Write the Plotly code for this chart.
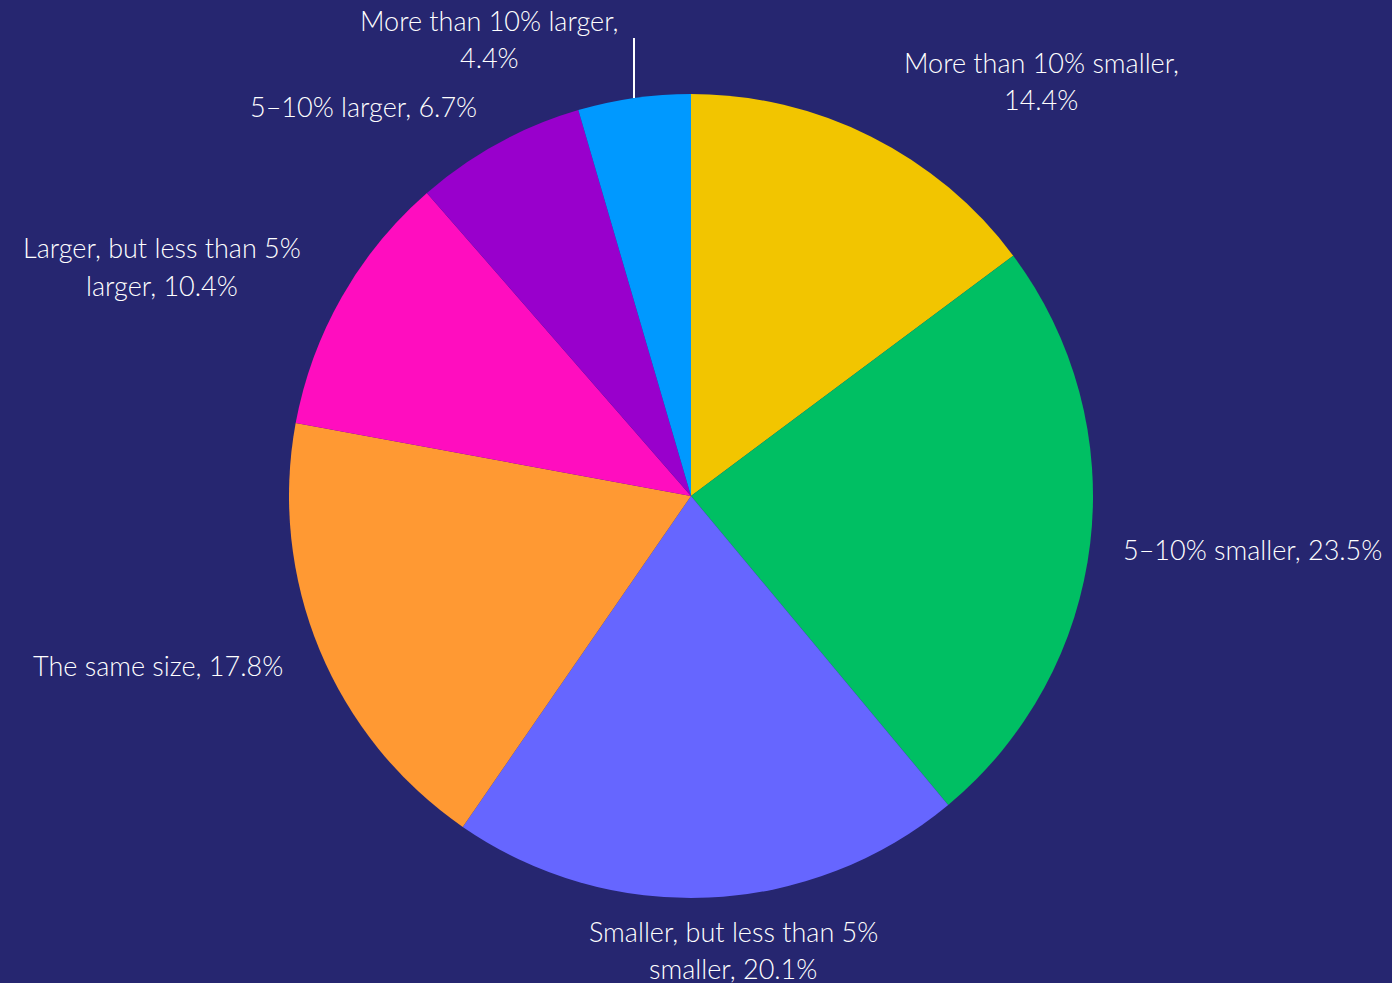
import plotly.graph_objects as go

# Data
categories = [
    "More than 10% smaller",
    "5–10% smaller",
    "Smaller, but less than 5% smaller",
    "The same size",
    "Larger, but less than 5% larger",
    "5–10% larger",
    "More than 10% larger",
]
values = [14.4, 23.5, 20.1, 17.8, 10.4, 6.7, 4.4]
label_lines = [
    ["More than 10% smaller,", "14.4%"],
    ["5–10% smaller, 23.5%"],
    ["Smaller, but less than 5%", "smaller, 20.1%"],
    ["The same size, 17.8%"],
    ["Larger, but less than 5%", "larger, 10.4%"],
    ["5–10% larger, 6.7%"],
    ["More than 10% larger,", "4.4%"],
]
colors = ["#F2C500", "#00BF63", "#6666FF", "#FF9933", "#FF0DBF", "#9900CC", "#0099FF"]

W, H = 1392, 983
BG = "#262670"
FONT = "Lato, DejaVu Sans, sans-serif"
FS = 27
LINE_GAP = 37

# label centre (first line) positions in pixels (layout)
label_pos = [
    (1041, 63),
    (1252, 549),
    (733, 931),
    (158, 665),
    (162, 248),
    (363, 107),
    (490, 20),
]

fig = go.Figure(go.Pie(
    labels=categories,
    values=values,
    sort=False,
    direction="clockwise",
    rotation=0,
    marker=dict(colors=colors, line=dict(width=0)),
    textinfo="none",
    hoverinfo="label+value",
    domain=dict(x=[0, 1382 / W], y=[85 / H, 889 / H]),
    showlegend=False,
))

annotations = []
for lines, (px, py) in zip(label_lines, label_pos):
    for i, line in enumerate(lines):
        annotations.append(dict(
            x=px / W, y=1 - (py + i * LINE_GAP) / H,
            xref="paper", yref="paper",
            text=line, showarrow=False,
            xanchor="center", yanchor="middle",
            font=dict(family=FONT, size=FS, color="white", weight=300),
        ))

fig.add_shape(type="line", xref="paper", yref="paper",
              x0=634 / W, x1=634 / W, y0=1 - 38 / H, y1=1 - 98 / H,
              line=dict(color="white", width=2))

fig.update_layout(
    width=W, height=H,
    paper_bgcolor=BG, plot_bgcolor=BG,
    margin=dict(l=0, r=0, t=0, b=0),
    annotations=annotations,
)

fig.write_html("out.html", config={"displayModeBar": False},
               post_script="document.body.style.margin='0';document.body.style.background='%s';" % BG)
